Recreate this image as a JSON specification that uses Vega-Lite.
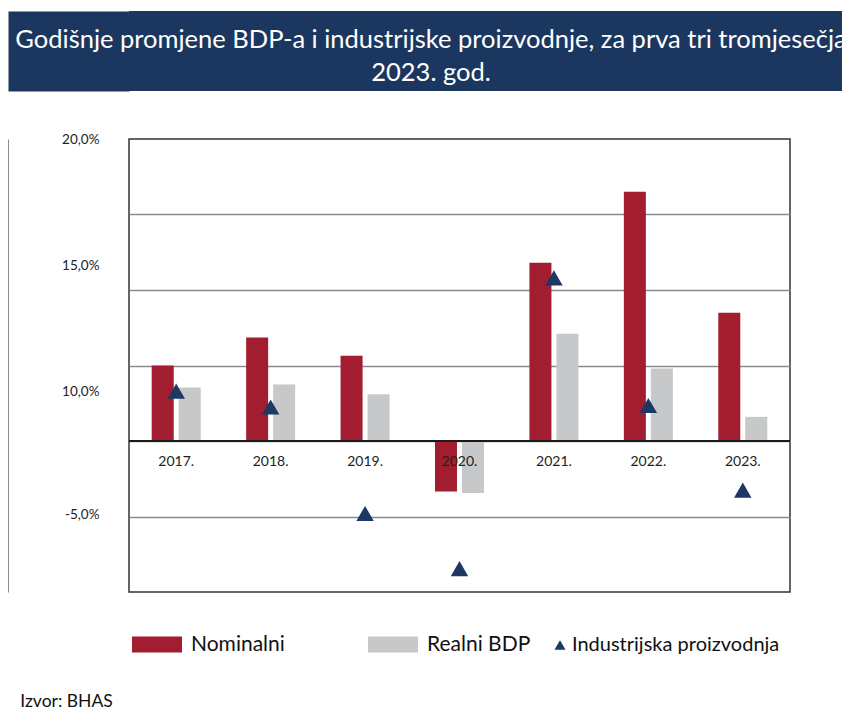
{
  "$schema": "https://vega.github.io/schema/vega-lite/v6.json",
  "background": "white",
  "padding": {"left": 7, "top": 11, "right": 0, "bottom": 0},
  "spacing": 40,
  "columns": 1,
  "resolve": {"legend": {"color": "independent", "shape": "independent"}},
  "title": {"text": "Izvor: BHAS", "orient": "bottom", "anchor": "start", "offset": 37.5, "dx": 13, "fontSize": 17.5, "fontWeight": "normal", "color": "#111111"},
  "datasets": {
    "header": [
      {"line": 1, "text": "Godišnje promjene BDP-a i industrijske proizvodnje, za prva tri tromjesečja"},
      {"line": 2, "text": "2023. god."}
    ],
    "gdp": [
      {"year": "2017.", "series": "Nominalni", "value": 5.0},
      {"year": "2017.", "series": "Realni BDP", "value": 3.55},
      {"year": "2018.", "series": "Nominalni", "value": 6.85},
      {"year": "2018.", "series": "Realni BDP", "value": 3.75},
      {"year": "2019.", "series": "Nominalni", "value": 5.65},
      {"year": "2019.", "series": "Realni BDP", "value": 3.1},
      {"year": "2020.", "series": "Nominalni", "value": -3.35},
      {"year": "2020.", "series": "Realni BDP", "value": -3.45},
      {"year": "2021.", "series": "Nominalni", "value": 11.8},
      {"year": "2021.", "series": "Realni BDP", "value": 7.1},
      {"year": "2022.", "series": "Nominalni", "value": 16.5},
      {"year": "2022.", "series": "Realni BDP", "value": 4.8},
      {"year": "2023.", "series": "Nominalni", "value": 8.5},
      {"year": "2023.", "series": "Realni BDP", "value": 1.6}
    ],
    "ind": [
      {"year": "2017.", "series": "Industrijska proizvodnja", "value": 3.3},
      {"year": "2018.", "series": "Industrijska proizvodnja", "value": 2.25},
      {"year": "2019.", "series": "Industrijska proizvodnja", "value": -4.8},
      {"year": "2020.", "series": "Industrijska proizvodnja", "value": -8.45},
      {"year": "2021.", "series": "Industrijska proizvodnja", "value": 10.8},
      {"year": "2022.", "series": "Industrijska proizvodnja", "value": 2.35},
      {"year": "2023.", "series": "Industrijska proizvodnja", "value": -3.25}
    ]
  },
  "concat": [
    {
      "width": 714,
      "height": 80,
      "view": {"fill": "#1c375f", "stroke": null},
      "data": {"name": "header"},
      "mark": {"type": "text", "color": "#ffffff", "fontSize": 25.5, "baseline": "middle", "dx": -55},
      "encoding": {
        "y": {"field": "line", "type": "ordinal", "scale": {"type": "point", "padding": 0.712, "align": 0.617},
          "axis": {"orient": "left", "offset": 60.5, "domain": true, "domainWidth": 121, "domainColor": "#1c375f", "labels": false, "ticks": false, "grid": false, "title": null}},
        "text": {"field": "text"}
      }
    },
    {
      "width": 661,
      "height": 453,
      "view": {"stroke": "#333333", "strokeWidth": 1.5},
      "resolve": {"scale": {"y": "shared"}, "axis": {"y": "independent"}},
      "layer": [
        {
          "data": {"name": "gdp"},
          "mark": {"type": "bar"},
          "encoding": {
            "x": {"field": "year", "type": "nominal", "sort": null, "scale": {"paddingInner": 0.481, "paddingOuter": 0.2405}, "axis": null},
            "xOffset": {"field": "series", "type": "nominal", "sort": null, "scale": {"paddingInner": 0.185, "paddingOuter": 0}},
            "y": {"field": "value", "type": "quantitative", "scale": {"domain": [-10, 20], "nice": false, "zero": false},
              "axis": {"orient": "left", "values": [-5, 0, 5, 10, 15], "grid": true, "gridColor": "#898a8c", "gridWidth": 1.5, "labels": false, "ticks": false, "domain": false, "title": null}},
            "color": {"field": "series", "type": "nominal", "scale": {"domain": ["Nominalni", "Realni BDP"], "range": ["#a11d2f", "#c7c8ca"]},
              "legend": {"orient": "none", "legendX": 3, "legendY": 480.5, "direction": "horizontal", "title": null, "symbolType": "M-1,-0.32H1V0.32H-1Z", "symbolSize": 2500, "symbolStrokeWidth": 0, "symbolOpacity": 1, "labelFontSize": 21, "labelOffset": 9, "columnPadding": 83, "labelLimit": 400, "padding": 0, "labelColor": "#111111"}}
          }
        },
        {
          "data": {"values": [{}]},
          "mark": {"type": "rule", "color": "#1a1a1a", "strokeWidth": 2},
          "encoding": {
            "y": {"datum": 0, "type": "quantitative", "scale": {"domain": [-10, 20], "nice": false, "zero": false},
              "axis": {"orient": "left", "offset": 121, "domain": true, "domainColor": "#8c8c8c", "domainWidth": 1, "labels": false, "ticks": false, "grid": false, "title": null}}
          }
        },
        {
          "data": {"name": "ind"},
          "mark": {"type": "point", "filled": true, "opacity": 1, "size": 305, "color": "#1d3864", "strokeWidth": 0},
          "encoding": {
            "x": {"field": "year", "type": "nominal", "sort": null},
            "y": {"field": "value", "type": "quantitative", "scale": {"domain": [-10, 20], "nice": false, "zero": false},
              "axis": {"orient": "left", "values": [20, 11.6, 3.3, -4.9], "labelExpr": "datum.value > 15 ? '20,0%' : datum.value > 5 ? '15,0%' : datum.value > 0 ? '10,0%' : '-5,0%'", "grid": false, "ticks": false, "tickSize": 0, "domain": false, "labelPadding": 30, "labelFontSize": 13.5, "labelColor": "#222222", "labelFlush": false, "labelOverlap": false, "title": null}},
            "shape": {"field": "series", "type": "nominal", "scale": {"domain": ["Industrijska proizvodnja"], "range": ["triangle-up"]},
              "legend": {"orient": "none", "legendX": 421, "legendY": 496, "title": null, "symbolSize": 121, "symbolFillColor": "#1d3864", "symbolStrokeWidth": 0, "symbolOpacity": 1, "labelFontSize": 20, "labelOffset": 2, "labelLimit": 400, "padding": 0, "labelColor": "#111111"}}
          }
        },
        {
          "data": {"name": "ind"},
          "mark": {"type": "text", "dy": 20.5, "fontSize": 14, "color": "#222222", "baseline": "middle"},
          "encoding": {
            "x": {"field": "year", "type": "nominal", "sort": null},
            "y": {"datum": 0, "type": "quantitative", "axis": null},
            "text": {"field": "year"}
          }
        }
      ]
    }
  ],
  "config": {
    "font": "Lato",
    "legend": {"labelFont": "Lato"},
    "axis": {"labelFont": "Lato"}
  }
}
